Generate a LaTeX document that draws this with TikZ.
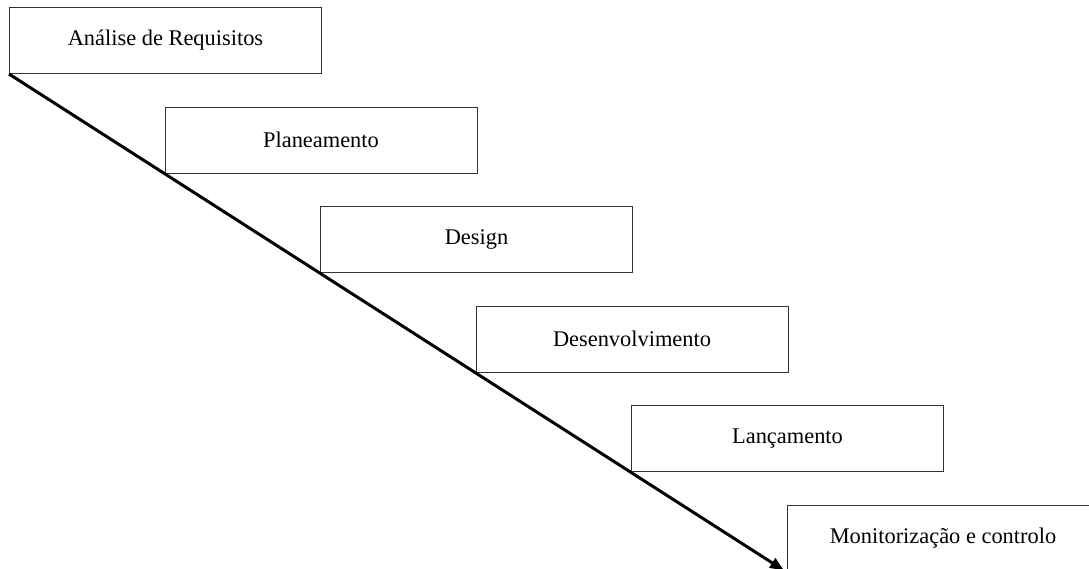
\documentclass[tikz,border=0pt]{standalone}
\usepackage{fontspec}
\setmainfont{Liberation Serif}
\usetikzlibrary{arrows.meta}
\tikzset{
  phase/.style={draw=black!80, line width=1pt, fill=white, rectangle,
    minimum width=312pt, minimum height=66pt, anchor=north west,
    inner sep=0pt, font=\fontsize{22.4}{26}\selectfont},
  flow/.style={line width=3pt, shorten >=3pt, -{Triangle[length=14pt,width=11pt]}}
}
\begin{document}
\begin{tikzpicture}[x=1pt,y=-1pt]
  \useasboundingbox (0,0) rectangle (1089,569);
  \clip (0,0) rectangle (1089,569);
  \node[phase] (b1) at (9,7)       {Análise de Requisitos};
  \node[phase] (b2) at (164.5,106.6) {Planeamento};
  \node[phase] (b3) at (320,206.2) {Design};
  \node[phase] (b4) at (475.5,305.8) {Desenvolvimento};
  \node[phase] (b5) at (631,405.4) {Lançamento};
  \node[phase] (b6) at (786.5,505) {Monitorização e controlo};
  \draw[flow] (b1.south west) -- (b6.south west);
\end{tikzpicture}
\end{document}
